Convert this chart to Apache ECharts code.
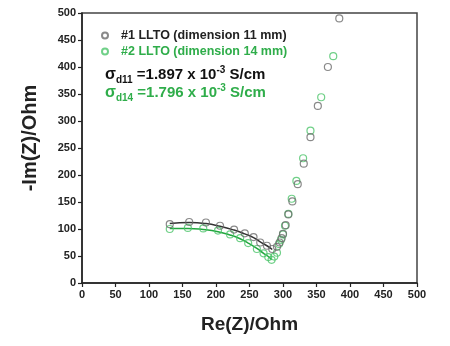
<!DOCTYPE html>
<html><head><meta charset="utf-8">
<script src="https://cdn.jsdelivr.net/npm/echarts@6/dist/echarts.min.js"></script>
<style>html,body{margin:0;padding:0;background:#fff}#c{width:450px;height:346px}</style>
</head><body><div id="c"></div>
<script>
// Sample #1 (dimension 11 mm) measured points [Re, -Im]
const s1Re = [131,160,185,206,227,243,256,266,276,284,291,295,298,300,304,308,314,322,331,341,352,367,384];
const s1Im = [109,113,112,106,99,92,85,75,69,63,67,75,83,91,107,127,151,183,221,270,328,400,490];
// Sample #2 (dimension 14 mm) measured points
const s2Re = [131,158,181,203,221,236,248,261,271,278,283,287,291,294,297,300,303,308,313,320,330,341,357,375];
const s2Im = [100,102,101,97,90,83,74,63,55,48,43,49,56,72,80,90,106,128,156,189,231,282,344,420];
// Fitted curves
const fit1Re = [131,160,185,206,227,243,256,266,276,284];
const fit1Im = [110,112,110,105,98,91,84,76,69,62];
const fit2Re = [131,158,181,203,221,236,248,261,271,278,283];
const fit2Im = [101,101,99,95,89,82,74,64,55,49,43];
const xTicks = [0,50,100,150,200,250,300,350,400,450,500];
const yTicks = [0,50,100,150,200,250,300,350,400,450,500];
const legendNames = ['#1 LLTO (dimension 11 mm)', '#2 LLTO (dimension 14 mm)'];

const zip = (a, b) => a.map((v, i) => [v, b[i]]);
const chart = echarts.init(document.getElementById('c'), null, {renderer: 'canvas'});
const FONT = '"Liberation Sans", Arial, sans-serif';
const GREEN = '#2fad4a';
const GRAYM = '#6b6b6b';
const GREENM = '#4cc46a';
chart.setOption({
  animation: false,
  grid: {left: 82, right: 33, top: 13, bottom: 63, show: true, borderColor: '#444', borderWidth: 1.5},
  xAxis: {
    type: 'value', min: xTicks[0], max: xTicks[xTicks.length-1], interval: 50,
    name: 'Re(Z)/Ohm', nameLocation: 'middle', nameGap: 32,
    nameTextStyle: {fontFamily: FONT, fontWeight: 'bold', fontSize: 19, color: '#222'},
    axisLine: {lineStyle: {color: '#222', width: 1.5}},
    axisTick: {inside: false, length: 4, lineStyle: {color: '#222', width: 1.2}},
    axisLabel: {fontFamily: FONT, fontWeight: 'bold', fontSize: 11, color: '#222', margin: 6},
    splitLine: {show: false}
  },
  yAxis: {
    type: 'value', min: yTicks[0], max: yTicks[yTicks.length-1], interval: 50,
    name: '-Im(Z)/Ohm', nameLocation: 'middle', nameGap: 42,
    nameTextStyle: {fontFamily: FONT, fontWeight: 'bold', fontSize: 20, color: '#222', padding: [0, 0, 0, 20]},
    axisLine: {lineStyle: {color: '#222', width: 1.5}},
    axisTick: {inside: false, length: 4, lineStyle: {color: '#222', width: 1.2}},
    axisLabel: {fontFamily: FONT, fontWeight: 'bold', fontSize: 11, color: '#222', margin: 6},
    splitLine: {show: false}
  },
  legend: {
    left: 96, top: 24, orient: 'vertical', itemGap: 3, itemWidth: 22, itemHeight: 6,
    data: [
      {name: legendNames[0], textStyle: {color: '#222'}},
      {name: legendNames[1], textStyle: {color: GREEN}}
    ],
    textStyle: {fontFamily: FONT, fontWeight: 'bold', fontSize: 12.5}
  },
  graphic: [
    {type: 'text', left: 105, top: 65, style: {
      text: '{s|σ}{sub|d11}{m| =1.897 x 10}{sup|-3}{m| S/cm}',
      fill: '#111',
      rich: {
        s: {fontFamily: FONT, fontWeight: 'bold', fontSize: 16, lineHeight: 20, fill: '#111'},
        m: {fontFamily: FONT, fontWeight: 'bold', fontSize: 15, lineHeight: 20, fill: '#111'},
        sub: {fontFamily: FONT, fontWeight: 'bold', fontSize: 10, lineHeight: 12, verticalAlign: 'bottom', fill: '#111'},
        sup: {fontFamily: FONT, fontWeight: 'bold', fontSize: 10, lineHeight: 10, verticalAlign: 'top', fill: '#111'}
      }
    }},
    {type: 'text', left: 105, top: 83, style: {
      text: '{s|σ}{sub|d14}{m| =1.796 x 10}{sup|-3}{m| S/cm}',
      fill: GREEN,
      rich: {
        s: {fontFamily: FONT, fontWeight: 'bold', fontSize: 16, lineHeight: 20, fill: GREEN},
        m: {fontFamily: FONT, fontWeight: 'bold', fontSize: 15, lineHeight: 20, fill: GREEN},
        sub: {fontFamily: FONT, fontWeight: 'bold', fontSize: 10, lineHeight: 12, verticalAlign: 'bottom', fill: GREEN},
        sup: {fontFamily: FONT, fontWeight: 'bold', fontSize: 10, lineHeight: 10, verticalAlign: 'top', fill: GREEN}
      }
    }}
  ],
  series: [
    {type: 'line', data: zip(fit1Re, fit1Im), smooth: true, showSymbol: false, silent: true,
     lineStyle: {color: '#333', width: 1.5}, z: 1},
    {type: 'line', data: zip(fit2Re, fit2Im), smooth: true, showSymbol: false, silent: true,
     lineStyle: {color: '#22a63e', width: 1.5}, z: 1},
    {name: legendNames[0], type: 'scatter', data: zip(s1Re, s1Im), symbol: 'circle', symbolSize: 7,
     itemStyle: {color: 'rgba(255,255,255,0)', borderColor: GRAYM, borderWidth: 1.2}, z: 3},
    {name: legendNames[1], type: 'scatter', data: zip(s2Re, s2Im), symbol: 'circle', symbolSize: 7,
     itemStyle: {color: 'rgba(255,255,255,0)', borderColor: GREENM, borderWidth: 1.2}, z: 2}
  ]
});
</script></body></html>
